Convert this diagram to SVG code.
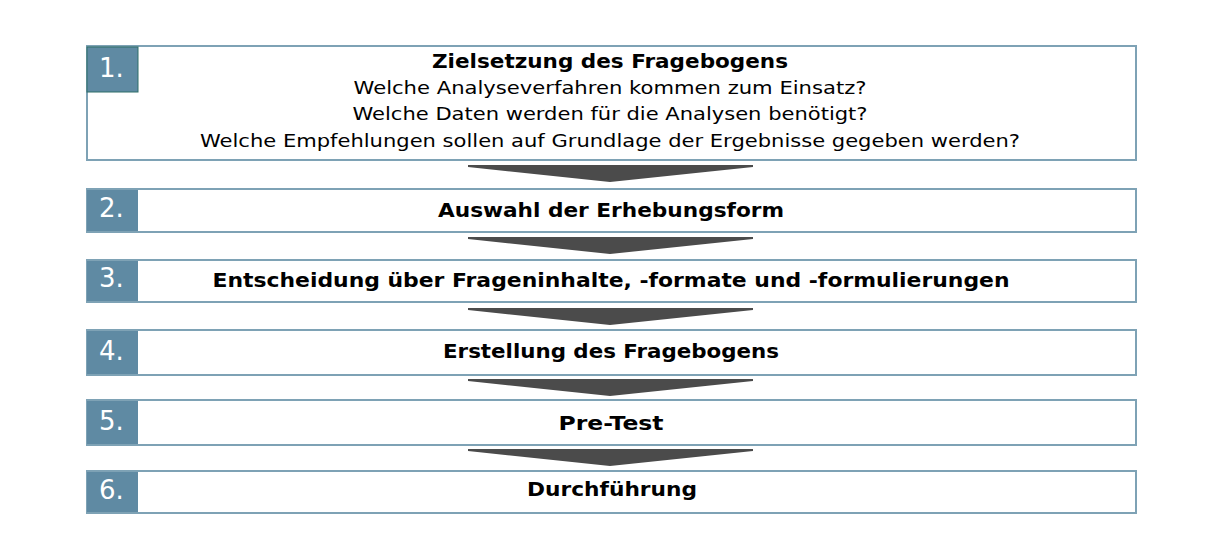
<svg xmlns="http://www.w3.org/2000/svg" width="1222" height="539" viewBox="0 0 1222 539">
<style>
.box{fill:#ffffff;stroke:#7ea2b5;stroke-width:2}
.lab{fill:#5f8aa3}
.num{font-family:"DejaVu Sans",sans-serif;font-size:26px;fill:#ffffff}
.t{font-family:"DejaVu Sans",sans-serif;font-size:20px;font-weight:bold;fill:#000000;text-anchor:middle}
.r{font-family:"DejaVu Sans",sans-serif;font-size:18px;fill:#000000;text-anchor:middle}
.arr{fill:#4b4b4b}
</style>
<rect width="1222" height="539" fill="#ffffff"/>
<g id="node1">
<rect class="box" x="87" y="46" width="1049" height="114"/>
<rect class="lab" x="87" y="47" width="51" height="45" stroke="#2f6e68" stroke-width="1"/>
<text class="num" x="99" y="77">1.</text>
<text class="t" x="610" y="68" textLength="356" lengthAdjust="spacingAndGlyphs">Zielsetzung des Fragebogens</text>
<text class="r" x="610" y="94" textLength="513" lengthAdjust="spacingAndGlyphs">Welche Analyseverfahren kommen zum Einsatz?</text>
<text class="r" x="610" y="120" textLength="515" lengthAdjust="spacingAndGlyphs">Welche Daten werden für die Analysen benötigt?</text>
<text class="r" x="610" y="147" textLength="820" lengthAdjust="spacingAndGlyphs">Welche Empfehlungen sollen auf Grundlage der Ergebnisse gegeben werden?</text>
</g>
<g id="node2">
<rect class="box" x="87" y="189" width="1049" height="43"/>
<rect class="lab" x="87" y="190" width="51" height="41"/>
<text class="num" x="99" y="217">2.</text>
<text class="t" x="611" y="217" textLength="346" lengthAdjust="spacingAndGlyphs">Auswahl der Erhebungsform</text>
</g>
<g id="node3">
<rect class="box" x="87" y="260" width="1049" height="42"/>
<rect class="lab" x="87" y="261" width="51" height="40"/>
<text class="num" x="99" y="287">3.</text>
<text class="t" x="611" y="287" textLength="797" lengthAdjust="spacingAndGlyphs">Entscheidung über Frageninhalte, -formate und -formulierungen</text>
</g>
<g id="node4">
<rect class="box" x="87" y="330" width="1049" height="45"/>
<rect class="lab" x="87" y="331" width="51" height="43"/>
<text class="num" x="99" y="360">4.</text>
<text class="t" x="611" y="358" textLength="336" lengthAdjust="spacingAndGlyphs">Erstellung des Fragebogens</text>
</g>
<g id="node5">
<rect class="box" x="87" y="400" width="1049" height="45"/>
<rect class="lab" x="87" y="401" width="51" height="43"/>
<text class="num" x="99" y="430">5.</text>
<text class="t" x="611" y="430" textLength="105" lengthAdjust="spacingAndGlyphs">Pre-Test</text>
</g>
<g id="node6">
<rect class="box" x="87" y="471" width="1049" height="42"/>
<rect class="lab" x="87" y="472" width="51" height="40"/>
<text class="num" x="99" y="499">6.</text>
<text class="t" x="612" y="496" textLength="170" lengthAdjust="spacingAndGlyphs">Durchführung</text>
</g>
<g id="connectors">
<polygon class="arr" points="468,165 753,165 753,167 610,182 468,167"/>
<polygon class="arr" points="468,237 753,237 753,239 610,254 468,239"/>
<polygon class="arr" points="468,308 753,308 753,310 610,325 468,310"/>
<polygon class="arr" points="468,379 753,379 753,381 610,396 468,381"/>
<polygon class="arr" points="468,449 753,449 753,451 610,466 468,451"/>
</g>
</svg>
